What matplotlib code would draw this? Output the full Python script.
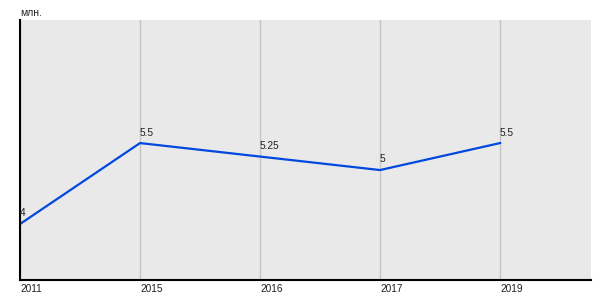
import matplotlib
matplotlib.use("Agg")
import matplotlib.pyplot as plt

years = ["2011", "2015", "2016", "2017", "2019"]
values = [4, 5.5, 5.25, 5, 5.5]
value_labels = ["4", "5.5", "5.25", "5", "5.5"]
unit = "млн."

plt.rcParams['font.family'] = ['Liberation Sans', 'DejaVu Sans']

fig = plt.figure(figsize=(6, 3), dpi=100)
ax = fig.add_axes([20/600, 20/300, 571/600, 260/300])
ax.set_facecolor('#e9e9e9')
x = list(range(len(years)))
ax.plot(x, values, color='#0048e0', lw=1.6, solid_joinstyle='round')
ax.set_xlim(0, 4.758)
ax.set_ylim(2.963, 7.78)
for xi in x:
    ax.axvline(xi, color='#c4c4c4', lw=1, zorder=0)
for xi, v, lab in zip(x, values, value_labels):
    ax.annotate(lab, (xi, v), xytext=(0, 4), textcoords='offset points',
                ha='left', va='bottom', fontsize=7.3, color='#222222')
ax.set_xticks(x)
ax.set_xticklabels(years, ha='left', fontsize=7.3, color='#222222')
ax.tick_params(axis='x', length=0, pad=3)
ax.set_yticks([])
for s in ['top', 'right']:
    ax.spines[s].set_visible(False)
ax.spines['left'].set_linewidth(1.5)
ax.spines['bottom'].set_linewidth(1.5)
fig.text(20/600, 1 - 13/300, unit, fontsize=7.5, color='#222222', va='center', ha='left')
fig.savefig('out.png', dpi=100)
